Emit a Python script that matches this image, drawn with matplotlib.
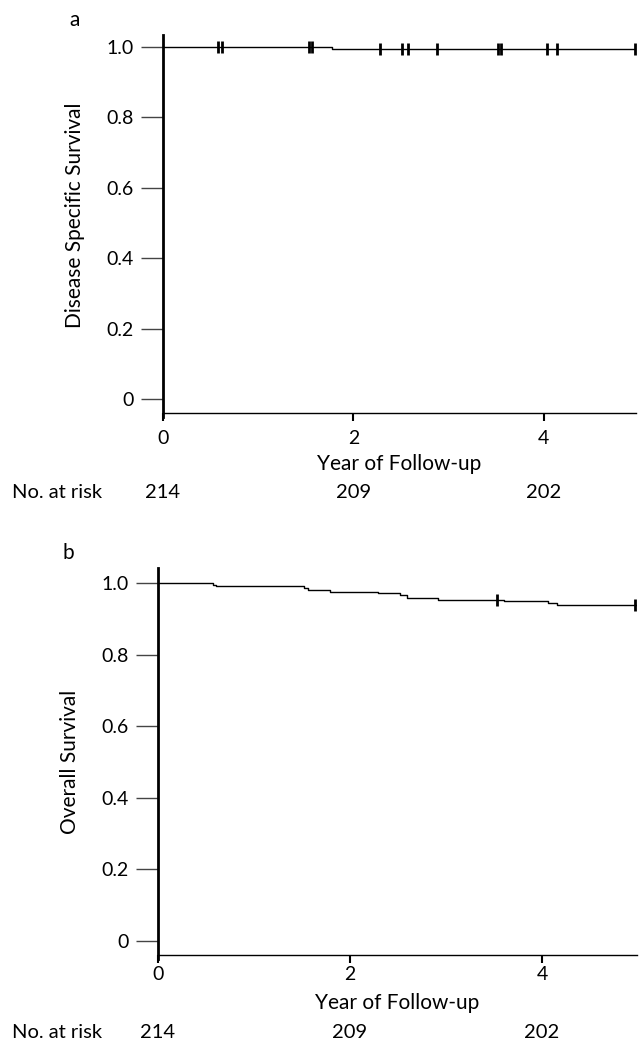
import matplotlib
matplotlib.use('Agg')
import matplotlib.pyplot as plt
import matplotlib.transforms as mtransforms

plt.rcParams['font.family'] = ['Lato', 'DejaVu Sans']

# Panel a: disease specific survival (step curve + censor marks)
dss_time = [0.0, 1.78, 4.97]
dss_surv = [1.0, 0.995, 0.995]
dss_cens_time = [0.58, 0.62, 1.53, 1.57, 2.28, 2.51, 2.57, 2.88, 3.52, 3.55, 4.04, 4.14, 4.96]

# Panel b: overall survival
os_time = [0.0, 0.57, 0.60, 1.52, 1.56, 1.79, 2.29, 2.52, 2.59, 2.92, 3.60, 4.06, 4.16, 4.98]
os_surv = [1.0, 0.995, 0.991, 0.986, 0.981, 0.976, 0.972, 0.967, 0.958, 0.953, 0.949, 0.944, 0.939, 0.939]
os_cens_time = [3.53, 4.97]

# Number at risk table
risk_years = [0, 2, 4]
risk_counts = [214, 209, 202]

yticks = [0, 0.2, 0.4, 0.6, 0.8, 1.0]
ytick_labels = ['0', '0.2', '0.4', '0.6', '0.8', '1.0']
xticks = [0, 2, 4]

fig = plt.figure(figsize=(6.41, 10.44), dpi=100)


def surv_at(times, surv, t):
    s = surv[0]
    for ti, si in zip(times, surv):
        if ti <= t:
            s = si
    return s


def draw_panel(ax, times, surv, cens, ylabel, letter, xmax, ymin, ymax,
               xtick_pad, xlab_pad, risk_y, ylab_x, ylab_y, letter_xy):
    ax.step(times, surv, where='post', color='black', lw=1.0)
    cy = [surv_at(times, surv, t) for t in cens]
    ax.plot(cens, cy, ls='none', marker='|', color='black', ms=8, mew=2)
    ax.set_xlim(0, xmax)
    ax.set_ylim(ymin, ymax)
    ax.spines['top'].set_visible(False)
    ax.spines['right'].set_visible(False)
    ax.spines['left'].set_linewidth(2.0)
    ax.spines['bottom'].set_linewidth(1.0)
    ax.spines['left'].set_bounds(ymin - 0.012, ymax)
    ax.set_yticks(yticks)
    ax.set_yticklabels(ytick_labels)
    ax.set_xticks(xticks)
    ax.tick_params(axis='y', length=16, width=1.0, pad=5, labelsize=14, color='#444444')
    ax.tick_params(axis='x', length=6, width=1.5, pad=xtick_pad, labelsize=14)
    ax.set_xlabel('Year of Follow-up', fontsize=15, labelpad=xlab_pad)
    ax.set_ylabel(ylabel, fontsize=15, va='center')
    ax.yaxis.set_label_coords(ylab_x, ylab_y)
    trans = mtransforms.blended_transform_factory(ax.transData, fig.transFigure)
    for yr, n in zip(risk_years, risk_counts):
        ax.text(yr, risk_y, str(n), transform=trans, ha='center', va='center', fontsize=14.5)
    fig.text(12 / 641, risk_y, 'No. at risk', ha='left', va='center', fontsize=14.5)
    fig.text(letter_xy[0], letter_xy[1], letter, ha='center', va='center', fontsize=15)


ax_a = fig.add_axes([163 / 641, 1 - 413 / 1044, 473 / 641, 378 / 1044])
draw_panel(ax_a, dss_time, dss_surv, dss_cens_time, 'Disease Specific Survival', 'a',
           4.97, -0.04, 1.034, 6, 5, 1 - 493 / 1044, -0.185, 0.524, (75 / 641, 1 - 20 / 1044))

ax_b = fig.add_axes([158 / 641, 1 - 955 / 1044, 479 / 641, 387 / 1044])
draw_panel(ax_b, os_time, os_surv, os_cens_time, 'Overall Survival', 'b',
           4.99, -0.039, 1.042, 2, 7, 1 - 1032 / 1044, -0.183, 0.5, (68 / 641, 1 - 553 / 1044))

fig.savefig('out.png', dpi=100)
